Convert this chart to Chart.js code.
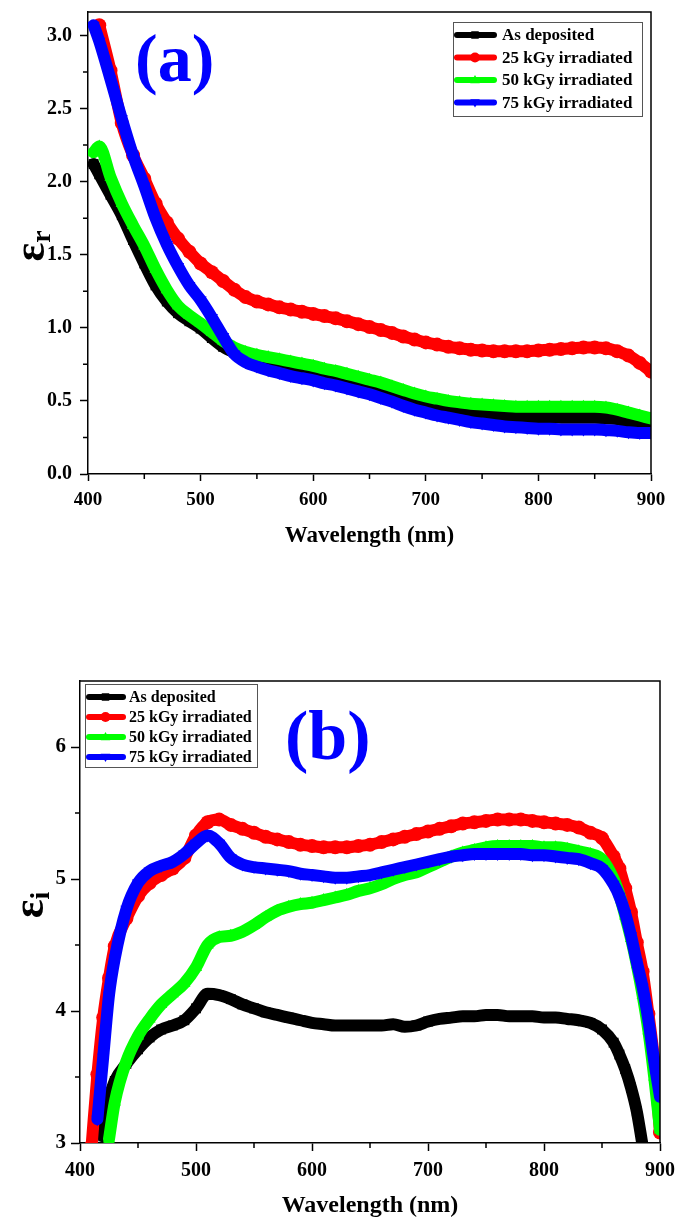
<!DOCTYPE html>
<html>
<head>
<meta charset="utf-8">
<script src="https://cdn.jsdelivr.net/npm/chart.js@4.4.1/dist/chart.umd.min.js"></script>
<style>
  html, body { margin: 0; padding: 0; background: #fff; }
  body { width: 675px; height: 1218px; position: relative; overflow: hidden; }
  #chartA { position: absolute; left: 0; top: 0; }
  #chartB { position: absolute; left: 0; top: 600px; }
</style>
</head>
<body>
<canvas id="chartA" width="675" height="560"></canvas>
<canvas id="chartB" width="675" height="618"></canvas>
<script>
// ---- series shared by both panels ----
const seriesLabels = ['As deposited', '25 kGy irradiated', '50 kGy irradiated', '75 kGy irradiated'];
const seriesColors = ['#000000', '#ff0000', '#00ff00', '#0000ff'];
const seriesMarkers = ['rect', 'circle', 'triangle', 'triangle'];
const seriesMarkerRotation = [0, 0, 0, 180];

// ---- panel (a): real part of the dielectric constant ----
const wavelengthsA = [405, 410, 420, 430, 440, 450, 460, 470, 480, 490, 500, 510, 520, 530, 540, 550,
  560, 570, 580, 590, 600, 610, 620, 630, 640, 650, 660, 670, 680, 690, 700, 710, 720, 730, 740, 750,
  760, 770, 780, 790, 800, 810, 820, 830, 840, 850, 860, 870, 880, 890, 900];
const epsRAsDeposited = [2.12, 2.05, 1.91, 1.77, 1.60, 1.44, 1.29, 1.18, 1.10, 1.045, 0.995, 0.93, 0.87,
  0.83, 0.80, 0.78, 0.76, 0.745, 0.73, 0.715, 0.70, 0.68, 0.665, 0.65, 0.63, 0.61, 0.585, 0.56, 0.535,
  0.51, 0.49, 0.47, 0.45, 0.435, 0.42, 0.41, 0.40, 0.395, 0.39, 0.39, 0.39, 0.39, 0.385, 0.385, 0.385,
  0.385, 0.38, 0.375, 0.35, 0.33, 0.32];
const epsR25kGy = [null, 3.07, 2.76, 2.40, 2.18, 2.02, 1.85, 1.72, 1.61, 1.52, 1.44, 1.38, 1.32, 1.26,
  1.21, 1.18, 1.16, 1.14, 1.125, 1.11, 1.095, 1.08, 1.065, 1.045, 1.025, 1.005, 0.985, 0.965, 0.94,
  0.92, 0.90, 0.885, 0.87, 0.86, 0.85, 0.845, 0.84, 0.84, 0.84, 0.84, 0.845, 0.85, 0.855, 0.86, 0.865,
  0.865, 0.86, 0.84, 0.81, 0.76, 0.70];
const epsR50kGy = [2.20, 2.24, 2.03, 1.85, 1.70, 1.56, 1.40, 1.26, 1.15, 1.085, 1.03, 0.97, 0.91, 0.865,
  0.835, 0.815, 0.80, 0.785, 0.77, 0.755, 0.74, 0.72, 0.705, 0.685, 0.665, 0.645, 0.625, 0.60, 0.575,
  0.55, 0.53, 0.515, 0.50, 0.49, 0.48, 0.475, 0.47, 0.465, 0.46, 0.46, 0.46, 0.46, 0.46, 0.46, 0.46,
  0.46, 0.455, 0.44, 0.42, 0.40, 0.38];
const epsR75kGy = [3.07, 2.96, 2.70, 2.43, 2.18, 1.97, 1.75, 1.57, 1.42, 1.29, 1.19, 1.07, 0.94, 0.82,
  0.765, 0.735, 0.71, 0.69, 0.67, 0.655, 0.64, 0.62, 0.605, 0.585, 0.565, 0.545, 0.52, 0.495, 0.465,
  0.44, 0.42, 0.40, 0.385, 0.37, 0.355, 0.345, 0.335, 0.325, 0.32, 0.315, 0.31, 0.31, 0.305, 0.305,
  0.305, 0.305, 0.30, 0.295, 0.285, 0.28, 0.28];
const minorTicksYA = [0.25, 0.75, 1.25, 1.75, 2.25, 2.75];

// ---- panel (b): imaginary part of the dielectric constant ----
const wavelengthsB = [410, 415, 420, 425, 430, 440, 450, 460, 470, 480, 490, 500, 510, 520, 530,
  540, 550, 560, 570, 580, 590, 600, 610, 620, 630, 640, 650, 660, 670, 680, 690, 700, 710, 720, 730,
  740, 750, 760, 770, 780, 790, 800, 810, 820, 830, 840, 850, 860, 865, 870, 875, 880, 885, 890, 895, 900];
const epsIAsDeposited = [null, null, 3.05, 3.33, 3.47, 3.60, 3.71, 3.80, 3.86, 3.89, 3.93, 4.02, 4.13,
  4.12, 4.09, 4.05, 4.02, 3.99, 3.97, 3.95, 3.93, 3.91, 3.90, 3.89, 3.89, 3.89, 3.89, 3.89, 3.90, 3.88,
  3.89, 3.92, 3.94, 3.95, 3.96, 3.96, 3.97, 3.97, 3.96, 3.96, 3.96, 3.95, 3.95, 3.94, 3.93, 3.91, 3.86,
  3.76, 3.67, 3.56, 3.42, 3.24, 2.98, null, null, null];
const epsI25kGy = [2.98, 3.52, 3.95, 4.25, 4.49, 4.70, 4.87, 4.97, 5.03, 5.08, 5.16, 5.33, 5.43, 5.45,
  5.41, 5.38, 5.35, 5.32, 5.30, 5.28, 5.26, 5.25, 5.24, 5.24, 5.24, 5.25, 5.26, 5.28, 5.30, 5.32, 5.34,
  5.36, 5.38, 5.40, 5.42, 5.43, 5.44, 5.45, 5.45, 5.45, 5.44, 5.43, 5.42, 5.41, 5.39, 5.35, 5.31, 5.17,
  5.08, 4.93, 4.75, 4.52, 4.30, 3.98, 3.62, 3.08];
const epsI50kGy = [null, null, null, 3.03, 3.31, 3.62, 3.81, 3.94, 4.05, 4.13, 4.21, 4.33, 4.50, 4.56,
  4.57, 4.60, 4.65, 4.71, 4.76, 4.79, 4.81, 4.82, 4.84, 4.86, 4.88, 4.91, 4.93, 4.96, 5.00, 5.03, 5.05,
  5.09, 5.13, 5.17, 5.20, 5.22, 5.24, 5.25, 5.25, 5.25, 5.25, 5.24, 5.24, 5.23, 5.21, 5.19, 5.15, 5.00,
  4.88, 4.72, 4.55, 4.35, 4.12, 3.85, 3.50, 3.10];
const epsI75kGy = [null, 3.18, 3.65, 4.12, 4.40, 4.77, 4.97, 5.06, 5.10, 5.13, 5.19, 5.27, 5.33, 5.27,
  5.16, 5.11, 5.09, 5.08, 5.07, 5.06, 5.04, 5.03, 5.02, 5.01, 5.01, 5.02, 5.03, 5.05, 5.07, 5.09, 5.11,
  5.13, 5.15, 5.17, 5.18, 5.19, 5.19, 5.19, 5.19, 5.19, 5.18, 5.18, 5.17, 5.16, 5.15, 5.12, 5.08, 4.96,
  4.87, 4.74, 4.57, 4.37, 4.18, 3.93, 3.62, 3.35];
const minorTicksYB = [3.5, 4.5, 5.5];

const minorTicksX = [450, 550, 650, 750, 850];

const SERIF = '"Liberation Serif", "Times New Roman", serif';
Chart.defaults.font.family = SERIF;
Chart.defaults.font.weight = 'bold';
Chart.defaults.color = '#000';

function drawMarker(ctx, style, rotation, x, y, r, color) {
  ctx.save();
  ctx.translate(x, y);
  ctx.rotate(rotation * Math.PI / 180);
  ctx.fillStyle = color;
  ctx.beginPath();
  if (style === 'rect') {
    ctx.rect(-r * 0.75, -r * 0.75, r * 1.5, r * 1.5);
  } else if (style === 'circle') {
    ctx.arc(0, 0, r, 0, Math.PI * 2);
  } else {
    ctx.moveTo(0, -r);
    ctx.lineTo(r * 0.95, r * 0.65);
    ctx.lineTo(-r * 0.95, r * 0.65);
    ctx.closePath();
  }
  ctx.fill();
  ctx.restore();
}

// box frame on top/right plus the short minor tick marks on the outer axes
const frameTicks = {
  id: 'frameTicks',
  afterDatasetsDraw(chart, args, o) {
    const { ctx, chartArea: { left, right, top, bottom }, scales: { x, y } } = chart;
    ctx.save();
    ctx.strokeStyle = o.color;
    ctx.lineWidth = o.width;
    ctx.beginPath();
    ctx.moveTo(left, top);
    ctx.lineTo(right, top);
    ctx.lineTo(right, bottom);
    ctx.stroke();
    ctx.beginPath();
    o.minorX.forEach(v => {
      const px = x.getPixelForValue(v);
      ctx.moveTo(px, bottom);
      ctx.lineTo(px, bottom + o.minorLen);
    });
    o.minorY.forEach(v => {
      const py = y.getPixelForValue(v);
      ctx.moveTo(left, py);
      ctx.lineTo(left - o.minorLen, py);
    });
    ctx.stroke();
    ctx.restore();
  }
};

// boxed legend inside the plot area
const boxLegend = {
  id: 'boxLegend',
  afterDraw(chart, args, o) {
    const ctx = chart.ctx;
    ctx.save();
    ctx.fillStyle = '#fff';
    ctx.fillRect(o.left, o.top, o.width, o.height);
    ctx.strokeStyle = '#555';
    ctx.lineWidth = 1;
    ctx.strokeRect(o.left + 0.5, o.top + 0.5, o.width, o.height);
    chart.data.datasets.forEach((ds, i) => {
      const cy = o.top + o.firstRow + i * o.rowGap;
      ctx.strokeStyle = ds.borderColor;
      ctx.lineWidth = o.lineW;
      ctx.lineCap = 'round';
      ctx.beginPath();
      ctx.moveTo(o.left + 4, cy);
      ctx.lineTo(o.left + o.sample - 3, cy);
      ctx.stroke();
      drawMarker(ctx, ds.pointStyle, ds.pointRotation || 0, o.left + o.sample / 2, cy, o.markerR, ds.borderColor);
      ctx.fillStyle = '#000';
      ctx.font = 'bold ' + o.fontSize + 'px ' + SERIF;
      ctx.textBaseline = 'middle';
      ctx.textAlign = 'left';
      ctx.fillText(ds.label, o.left + o.sample + o.gap, cy + 1);
    });
    ctx.restore();
  }
};

// rotated y-axis title with a subscript, and the blue panel tag
const panelText = {
  id: 'panelText',
  afterDraw(chart, args, o) {
    const ctx = chart.ctx;
    ctx.save();
    ctx.fillStyle = o.tagColor;
    ctx.font = 'bold ' + o.tagSize + 'px ' + SERIF;
    ctx.textBaseline = 'alphabetic';
    ctx.textAlign = 'left';
    ctx.fillText(o.tag, o.tagX, o.tagY);
    ctx.restore();

    ctx.save();
    ctx.translate(o.titleX, o.titleY);
    ctx.rotate(-Math.PI / 2);
    ctx.fillStyle = '#000';
    ctx.textBaseline = 'alphabetic';
    ctx.textAlign = 'left';
    ctx.font = 'bold ' + o.mainSize + 'px ' + SERIF;
    const w1 = ctx.measureText(o.main).width;
    ctx.font = 'bold ' + o.subSize + 'px ' + SERIF;
    const w2 = ctx.measureText(o.sub).width;
    const start = -(w1 + w2) / 2;
    ctx.font = 'bold ' + o.mainSize + 'px ' + SERIF;
    ctx.fillText(o.main, start, 0);
    ctx.font = 'bold ' + o.subSize + 'px ' + SERIF;
    ctx.fillText(o.sub, start + w1, o.subShift);
    ctx.restore();
  }
};

function buildDatasets(xs, seriesList) {
  return seriesList.map((vals, i) => ({
    label: seriesLabels[i],
    data: xs.map((w, k) => ({ x: w, y: vals[k] })),
    borderColor: seriesColors[i],
    backgroundColor: seriesColors[i],
    pointBackgroundColor: seriesColors[i],
    pointBorderColor: seriesColors[i],
    pointStyle: seriesMarkers[i],
    pointRotation: seriesMarkerRotation[i],
    pointRadius: 7,
    pointBorderWidth: 0,
    borderWidth: 12,
    borderCapStyle: 'round',
    borderJoinStyle: 'round',
    cubicInterpolationMode: 'monotone',
    clip: 0,
    order: 4 - i
  }));
}

function axisCommon(cfg) {
  return {
    type: 'linear',
    min: cfg.min,
    max: cfg.max,
    border: { display: true, color: '#000', width: 1.5 },
    grid: { drawOnChartArea: false, drawTicks: true, tickLength: cfg.tickLen, tickColor: '#000', tickWidth: 1.5 },
    ticks: {
      stepSize: cfg.step,
      includeBounds: false,
      padding: cfg.pad,
      font: { size: cfg.fontSize, weight: 'bold', family: SERIF },
      color: '#000',
      maxRotation: 0,
      autoSkip: false,
      callback: cfg.fmt
    },
    afterFit: cfg.fit
  };
}

// fixed axis thickness, no extra label overhang padding
function fixWidth(w) {
  return s => { s.width = w; s.paddingTop = 0; s.paddingBottom = 0; };
}
function fixHeight(h) {
  return s => { s.height = h; s.paddingLeft = 0; s.paddingRight = 0; };
}

// ---- panel (a) ----
new Chart(document.getElementById('chartA'), {
  type: 'line',
  data: { datasets: buildDatasets(wavelengthsA, [epsRAsDeposited, epsR25kGy, epsR50kGy, epsR75kGy]) },
  options: {
    responsive: false,
    animation: false,
    events: [],
    layout: { padding: { top: 12, right: 24, left: 0, bottom: 0 } },
    plugins: {
      legend: { display: false },
      tooltip: { enabled: false },
      frameTicks: { color: '#000', width: 1.5, minorLen: 5, minorX: minorTicksX, minorY: minorTicksYA },
      boxLegend: { left: 453, top: 22, width: 189, height: 94, firstRow: 13, rowGap: 22.5,
        sample: 44, gap: 5, lineW: 6, markerR: 5, fontSize: 17 },
      panelText: { tag: '(a)', tagX: 135, tagY: 81, tagSize: 68, tagColor: '#0000ff',
        main: 'ε', sub: 'r', titleX: 44, titleY: 246, mainSize: 44, subSize: 28, subShift: 6 }
    },
    scales: {
      x: Object.assign(axisCommon({ min: 400, max: 900, step: 100, tickLen: 7, pad: 8, fontSize: 19,
        fmt: v => String(v), fit: fixHeight(86) }), {
        title: { display: true, text: 'Wavelength (nm)', color: '#000',
          font: { size: 23, weight: 'bold', family: SERIF, lineHeight: 1 }, padding: { top: 0, bottom: 12 } }
      }),
      y: axisCommon({ min: 0, max: 3.16, step: 0.5, tickLen: 8, pad: 8, fontSize: 20,
        fmt: v => v.toFixed(1), fit: fixWidth(88) })
    }
  },
  plugins: [frameTicks, boxLegend, panelText]
});

// ---- panel (b) ----
new Chart(document.getElementById('chartB'), {
  type: 'line',
  data: { datasets: buildDatasets(wavelengthsB, [epsIAsDeposited, epsI25kGy, epsI50kGy, epsI75kGy]) },
  options: {
    responsive: false,
    animation: false,
    events: [],
    layout: { padding: { top: 81, right: 15, left: 0, bottom: 0 } },
    plugins: {
      legend: { display: false },
      tooltip: { enabled: false },
      frameTicks: { color: '#000', width: 1.5, minorLen: 5, minorX: minorTicksX, minorY: minorTicksYB },
      boxLegend: { left: 85, top: 84, width: 172, height: 83, firstRow: 13, rowGap: 20,
        sample: 41, gap: 3, lineW: 6, markerR: 5, fontSize: 16 },
      panelText: { tag: '(b)', tagX: 285, tagY: 159, tagSize: 70, tagColor: '#0000ff',
        main: 'ε', sub: 'i', titleX: 43, titleY: 305, mainSize: 44, subSize: 28, subShift: 6 }
    },
    scales: {
      x: Object.assign(axisCommon({ min: 400, max: 900, step: 100, tickLen: 8, pad: 8, fontSize: 20,
        fmt: v => String(v), fit: fixHeight(75) }), {
        title: { display: true, text: 'Wavelength (nm)', color: '#000',
          font: { size: 24, weight: 'bold', family: SERIF, lineHeight: 1 }, padding: { top: 0, bottom: 0 } }
      }),
      y: axisCommon({ min: 3, max: 6.5, step: 1, tickLen: 9, pad: 5, fontSize: 21,
        fmt: v => String(v), fit: fixWidth(80) })
    }
  },
  plugins: [frameTicks, boxLegend, panelText]
});
</script>
</body>
</html>
